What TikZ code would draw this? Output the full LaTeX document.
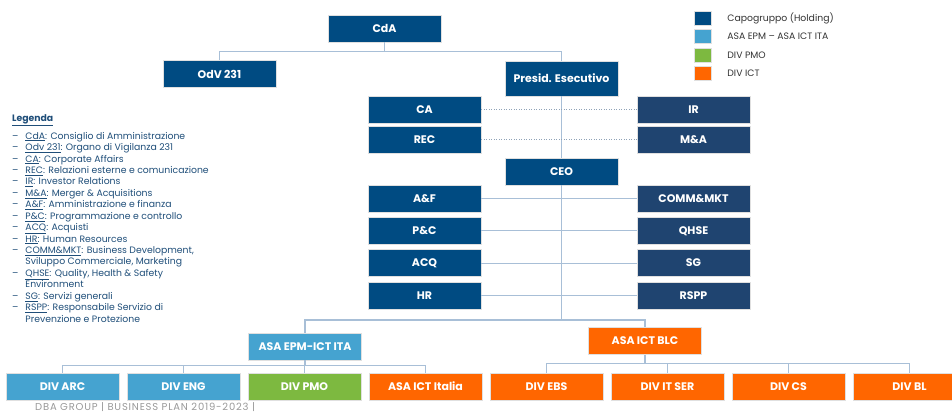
\documentclass[tikz,border=0pt]{standalone}
\usepackage{fontspec}
\setmainfont{Poppins}
\usepackage{xcolor}
\usetikzlibrary{positioning}
\definecolor{holding}{HTML}{004B82}
\definecolor{staff}{HTML}{1F4470}
\definecolor{asaepm}{HTML}{45A3D0}
\definecolor{divpmo}{HTML}{7DB940}
\definecolor{divict}{HTML}{FF6600}
\definecolor{wirecol}{HTML}{A8BFD7}
\definecolor{legtxt}{HTML}{1F4E79}
\tikzset{
	x=1pt,
	y=-1pt,
	line width=.75pt,
	font=\fontsize{9.3}{11.44}\selectfont,
	unit/.style={
		draw=black!12,
		line width=.5pt,
		minimum width=113pt,
		minimum height=27pt,
		inner sep=0pt,
		text=white,
		font=\fontsize{11}{13}\selectfont\bfseries
	},
	holdbox/.style={unit, fill=holding},
	staffbox/.style={unit, fill=staff},
	epmbox/.style={unit, fill=asaepm},
	pmobox/.style={unit, fill=divpmo},
	ictbox/.style={unit, fill=divict},
	keybox/.style={
		fill=#1,
		draw=black!12,
		line width=.4pt,
		minimum width=17pt,
		minimum height=14pt,
		inner sep=0pt
	},
	keytext/.style={
		inner sep=0pt,
		anchor=west,
		text=black!80,
		font=\fontsize{9.3}{11}\selectfont
	},
	wire/.style={
		draw=wirecol,
		line width=1.2pt
	},
	dotwire/.style={
		draw=wirecol!85!black,
		dotted,
		line width=.5pt
	}
}

\begin{document}
\begin{tikzpicture}
		\useasboundingbox (0,0) rectangle (952,415);
		\clip (0,0) rectangle (952,415);

		\node[holdbox] (cda) at (384.5,28.5) {CdA};
		\node[holdbox] (odv) at (219.5,74) {OdV 231};
		\node[holdbox, minimum height=35pt] (pres) at (561.5,78.5) {Presid. Esecutivo};
		\node[holdbox] (ca) at (424.5,109.5) {CA};
		\node[holdbox] (rec) at (424.5,139.5) {REC};
		\node[staffbox] (ir) at (693.5,109.5) {IR};
		\node[staffbox] (ma) at (693.5,139.5) {M\&A};
		\node[holdbox] (ceo) at (561.5,171.5) {CEO};

		\foreach \l/\lt/\r/\rt [count=\i from 0] in {af/A\&F/comm/COMM\&MKT, pc/P\&C/qhse/QHSE, acq/ACQ/sg/SG, hr/HR/rspp/RSPP} {
			\node[holdbox] (\l) at (424.5,{198.5+32.3*\i}) {\lt};
			\node[staffbox] (\r) at (693.5,{198.5+32.3*\i}) {\rt};
			\draw[wire] (\l.east) -- (\r.west);
		}

		\node[epmbox] (epm) at (305,346.5) {ASA EPM-ICT ITA};
		\node[ictbox] (blc) at (645,341) {ASA ICT BLC};

		\foreach \nm/\t/\s [count=\i from 0] in {arc/DIV ARC/epmbox, eng/DIV ENG/epmbox, pmo/DIV PMO/pmobox, ita/ASA ICT Italia/ictbox, ebs/DIV EBS/ictbox, itser/DIV IT SER/ictbox, cs/DIV CS/ictbox, bl/DIV BL/ictbox} {
			\node[\s] (\nm) at ({62.5+121*\i},386.5) {\t};
		}

		\coordinate (cdabus) at ([yshift=-9pt]cda.south);
		\coordinate (ceobus) at (561.5,320);
		\coordinate (epmbus) at ([yshift=-5pt]epm.south);
		\coordinate (blcbus) at ([yshift=-9pt]blc.south);

		\draw[wire] (cda.south) -- (cdabus) -| (odv.north);
		\draw[wire] (cdabus) -| (pres.north);
		\draw[wire] (pres.south) -- (ceo.north);
		\draw[wire] (ceo.south) -- (ceobus);
		\draw[wire] (ceobus) -| (epm.north);
		\draw[wire] (ceobus) -| (blc.north);
		\draw[dotwire] (ca.east) -- (ir.west);
		\draw[dotwire] (rec.east) -- (ma.west);
		\draw[wire] (epm.south) -- (epmbus);
		\foreach \nm in {arc,eng,pmo,ita} {
			\draw[wire] (epmbus) -| (\nm.north);
		}
		\draw[wire] (blc.south) -- (blcbus);
		\foreach \nm in {ebs,itser,cs,bl} {
			\draw[wire] (blcbus) -| (\nm.north);
		}

		\foreach \c/\t [count=\i from 0] in {holding/Capogruppo (Holding), asaepm/ASA EPM – ASA ICT ITA, divpmo/DIV PMO, divict/DIV ICT} {
			\node[keybox=\c] (key\i) at (702.5,{18+18.4*\i}) {};
			\node[keytext, right=16pt of key\i] (keytxt\i) {\t};
		}

		\node[anchor=north west, inner sep=0pt, text=legtxt] (legend) at (12,113) {%
			\begin{tabular}{@{}l@{\hspace{7pt}}l@{}}
				\multicolumn{2}{@{}l}{\textbf{\underline{Legenda}}}\\[6.5pt]
				– & \underline{CdA}: Consiglio di Amministrazione\\
				– & \underline{Odv 231}: Organo di Vigilanza 231\\
				– & \underline{CA}: Corporate Affairs\\
				– & \underline{REC}: Relazioni esterne e comunicazione\\
				– & \underline{IR}: Investor Relations\\
				– & \underline{M\&A}: Merger \& Acquisitions\\
				– & \underline{A\&F}: Amministrazione e finanza\\
				– & \underline{P\&C}: Programmazione e controllo\\
				– & \underline{ACQ}: Acquisti\\
				– & \underline{HR}: Human Resources\\
				– & \underline{COMM\&MKT}: Business Development,\\
				  & Sviluppo Commerciale, Marketing\\
				– & \underline{QHSE}: Quality, Health \& Safety\\
				  & Environment\\
				– & \underline{SG}: Servizi generali\\
				– & \underline{RSPP}: Responsabile Servizio di\\
				  & Prevenzione e Protezione
			\end{tabular}};

		\node[anchor=west, inner sep=0pt, text=black!40, font=\fontsize{10}{12}\selectfont\addfontfeature{LetterSpace=8}] (footer) at (35,407.5) {DBA GROUP | BUSINESS PLAN 2019-2023 |};
	\end{tikzpicture}
\end{document}
